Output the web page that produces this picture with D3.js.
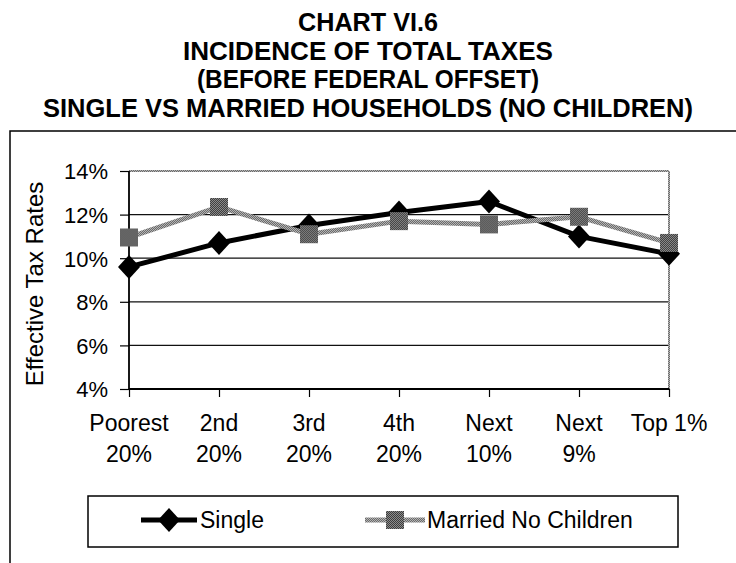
<!DOCTYPE html>
<html>
<head>
<meta charset="utf-8">
<title>Chart VI.6</title>
<script src="https://d3js.org/d3.v7.min.js"></script>
<style>
  body { margin: 0; background: #fff; }
  text { font-family: "Liberation Sans", Arial, sans-serif; fill: #000; }
</style>
</head>
<body>
<script>
// data (percent)
var categories = [["Poorest", "20%"], ["2nd", "20%"], ["3rd", "20%"], ["4th", "20%"], ["Next", "10%"], ["Next", "9%"], ["Top 1%"]];
var single = [9.6, 10.7, 11.5, 12.1, 12.6, 11.0, 10.2];
var married = [10.95, 12.35, 11.1, 11.7, 11.55, 11.9, 10.7];
var yTicks = [4, 6, 8, 10, 12, 14];
var titleLines = ["CHART VI.6", "INCIDENCE OF TOTAL TAXES", "(BEFORE FEDERAL OFFSET)", "SINGLE VS MARRIED HOUSEHOLDS (NO CHILDREN)"];
var titleWidths = [140, 370, 342, 650];
var seriesNames = ["Single", "Married No Children"];

var W = 736, H = 563;
var plot = {left: 129, right: 669, top: 171, bottom: 389};

var svg = d3.select("body").append("svg")
  .attr("width", W).attr("height", H);

// dither patterns to mimic the scanned gray
var defs = svg.append("defs");
function dither(id, base, dot) {
  var p = defs.append("pattern").attr("id", id)
    .attr("patternUnits", "userSpaceOnUse").attr("width", 2).attr("height", 2);
  p.append("rect").attr("width", 2).attr("height", 2).attr("fill", base);
  p.append("rect").attr("width", 1).attr("height", 1).attr("fill", dot);
  p.append("rect").attr("x", 1).attr("y", 1).attr("width", 1).attr("height", 1).attr("fill", dot);
}
dither("dkDither", "#3c3c3c", "#8c8c8c");
dither("ltDither", "#6a6a6a", "#b4b4b4");

// title (narrow bold face, squeezed to the scanned widths)
svg.append("g").selectAll("text").data(titleLines).enter().append("text")
  .attr("x", 368)
  .attr("y", function(d, i) { return 31 + i * 28.5; })
  .attr("text-anchor", "middle")
  .attr("textLength", function(d, i) { return titleWidths[i]; })
  .attr("lengthAdjust", "spacingAndGlyphs")
  .style("font-size", "26px").style("font-weight", "bold")
  .text(function(d) { return d; });

// outer frame
svg.append("path").attr("d", "M10," + H + "V131H" + W)
  .attr("fill", "none").attr("stroke", "#000").attr("stroke-width", 1.5);

var x = d3.scalePoint().domain(d3.range(categories.length)).range([plot.left, plot.right]);
var y = d3.scaleLinear().domain([4, 14]).range([plot.bottom, plot.top]);

// gridlines
svg.append("g").selectAll("line").data([6, 8, 10, 12]).enter().append("line")
  .attr("x1", plot.left).attr("x2", plot.right)
  .attr("y1", function(d) { return y(d); }).attr("y2", function(d) { return y(d); })
  .attr("stroke", "#111").attr("stroke-width", 1.2);

// plot border top / right
svg.append("line").attr("x1", plot.left).attr("x2", plot.right)
  .attr("y1", y(14)).attr("y2", y(14))
  .attr("stroke", "url(#ltDither)").attr("stroke-width", 2);
svg.append("line").attr("x1", plot.right).attr("x2", plot.right)
  .attr("y1", y(14)).attr("y2", y(4))
  .attr("stroke", "url(#ltDither)").attr("stroke-width", 2);

// y axis
var yAxis = d3.axisLeft(y).tickValues(yTicks).tickSize(9).tickPadding(12)
  .tickFormat(function(d) { return d + "%"; });
var gy = svg.append("g").attr("transform", "translate(" + plot.left + ",0)").call(yAxis);
gy.select(".domain").attr("stroke", "#000").attr("stroke-width", 1.8).attr("d", "M0," + plot.top + "V" + plot.bottom);
gy.selectAll(".tick line").attr("stroke", "#000").attr("stroke-width", 1.2);
gy.selectAll(".tick text").style("font-size", "22px")
  .style("font-family", "'Liberation Sans', Arial, sans-serif").attr("fill", "#000").attr("dy", "0.36em");

// x axis
var xAxis = d3.axisBottom(x).tickSize(8).tickFormat("");
var gx = svg.append("g").attr("transform", "translate(0," + plot.bottom + ")").call(xAxis);
gx.select(".domain").attr("stroke", "#000").attr("stroke-width", 1.8).attr("d", "M" + plot.left + ",0H" + plot.right);
gx.selectAll(".tick line").attr("stroke", "#000").attr("stroke-width", 1.2);

// category labels (two lines)
var cl = svg.append("g").selectAll("text").data(categories).enter().append("text")
  .attr("text-anchor", "middle")
  .style("font-size", "23px");
cl.selectAll("tspan").data(function(d, i) { return d.map(function(t) { return {t: t, i: i}; }); })
  .enter().append("tspan")
  .attr("x", function(d) { return x(d.i); })
  .attr("y", function(d, j) { return 431 + j * 31; })
  .text(function(d) { return d.t; });

// axis title
svg.append("text")
  .attr("transform", "translate(43," + ((plot.top + plot.bottom) / 2 + 4) + ") rotate(-90)")
  .attr("text-anchor", "middle")
  .style("font-size", "24px")
  .text("Effective Tax Rates");

// series
var diamond = "M0,-12L11,0L0,12L-11,0Z";
var square = "M-9,-9H9V9H-9Z";

var line = d3.line().x(function(d, i) { return x(i); }).y(function(d) { return y(d); });

svg.append("path").datum(single).attr("d", line)
  .attr("fill", "none").attr("stroke", "#000").attr("stroke-width", 5).attr("stroke-linejoin", "round");
svg.append("g").selectAll("path").data(single).enter().append("path")
  .attr("d", diamond)
  .attr("transform", function(d, i) { return "translate(" + x(i) + "," + y(d) + ")"; })
  .attr("fill", "#000");

svg.append("path").datum(married).attr("d", line)
  .attr("fill", "none").attr("stroke", "url(#ltDither)").attr("stroke-width", 5).attr("stroke-linejoin", "round");
svg.append("g").selectAll("path").data(married).enter().append("path")
  .attr("d", square)
  .attr("transform", function(d, i) { return "translate(" + x(i) + "," + y(d) + ")"; })
  .attr("fill", "url(#dkDither)");

// legend
var lg = svg.append("g");
lg.append("rect").attr("x", 88).attr("y", 496).attr("width", 590).attr("height", 51)
  .attr("fill", "#fff").attr("stroke", "#000").attr("stroke-width", 1.5);
var ly = 520;
lg.append("line").attr("x1", 141).attr("x2", 197).attr("y1", ly).attr("y2", ly)
  .attr("stroke", "#000").attr("stroke-width", 5);
lg.append("path").attr("d", diamond).attr("transform", "translate(169," + ly + ")").attr("fill", "#000");
lg.append("text").attr("x", 200).attr("y", ly + 8).style("font-size", "23px").text(seriesNames[0]);
lg.append("line").attr("x1", 365).attr("x2", 425).attr("y1", ly).attr("y2", ly)
  .attr("stroke", "url(#ltDither)").attr("stroke-width", 5);
lg.append("path").attr("d", square).attr("transform", "translate(395," + ly + ")").attr("fill", "url(#dkDither)");
lg.append("text").attr("x", 427).attr("y", ly + 8).style("font-size", "23px").text(seriesNames[1]);
</script>
</body>
</html>
